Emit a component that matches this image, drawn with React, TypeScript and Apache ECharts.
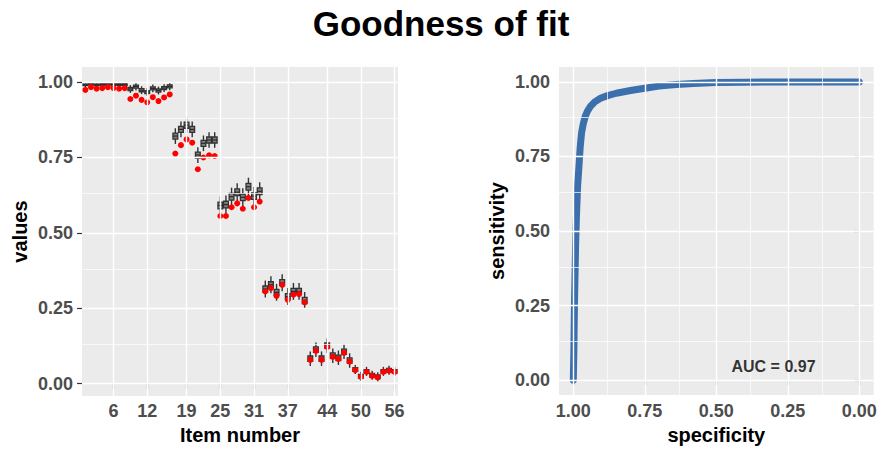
import React, { useEffect, useRef } from "react";
import * as echarts from "echarts";

// ---------- data ----------
const ITEMS = [
  1, 2, 3, 4, 5, 6, 7, 8, 9, 10, 11, 12, 13, 14, 15, 16, 17, 18, 19, 20, 21, 22, 23, 24, 25, 26, 27, 28,
  29, 30, 31, 32, 33, 34, 35, 36, 37, 38, 39, 40, 41, 42, 43, 44, 45, 46, 47, 48, 49, 50, 51, 52, 53, 54, 55, 56,
];

const OBSERVED = [
  0.974, 0.983, 0.978, 0.98, 0.983, 0.98, 0.978, 0.98,
  0.944, 0.955, 0.941, 0.933, 0.95, 0.937, 0.949, 0.959,
  0.763, 0.791, 0.81, 0.799, 0.711, 0.75, 0.757, 0.755,
  0.556, 0.556, 0.585, 0.598, 0.58, 0.616, 0.585, 0.604,
  0.306, 0.317, 0.291, 0.328, 0.278, 0.295, 0.297, 0.27,
  0.079, 0.109, 0.079, 0.122, 0.089, 0.082, 0.102, 0.073,
  0.045, 0.023, 0.039, 0.026, 0.021, 0.039, 0.043, 0.039,
];

const WHISK_LO = [
  0.983, 0.986, 0.983, 0.984, 0.986, 0.984, 0.984, 0.984,
  0.964, 0.972, 0.96, 0.954, 0.966, 0.959, 0.967, 0.973,
  0.795, 0.817, 0.831, 0.817, 0.732, 0.771, 0.782, 0.782,
  0.561, 0.564, 0.59, 0.605, 0.588, 0.623, 0.592, 0.608,
  0.286, 0.3, 0.275, 0.307, 0.261, 0.278, 0.278, 0.248,
  0.059, 0.089, 0.059, 0.102, 0.069, 0.062, 0.082, 0.053,
  0.032, 0.01, 0.026, 0.013, 0.008, 0.026, 0.03, 0.026,
];

const Q1 = [
  0.988, 0.991, 0.988, 0.989, 0.991, 0.989, 0.989, 0.989,
  0.972, 0.98, 0.968, 0.962, 0.974, 0.967, 0.975, 0.981,
  0.811, 0.833, 0.847, 0.833, 0.748, 0.787, 0.798, 0.798,
  0.58, 0.583, 0.609, 0.624, 0.607, 0.642, 0.611, 0.627,
  0.304, 0.318, 0.293, 0.325, 0.279, 0.296, 0.296, 0.266,
  0.074, 0.104, 0.074, 0.117, 0.084, 0.077, 0.097, 0.068,
  0.041, 0.019, 0.035, 0.022, 0.017, 0.035, 0.039, 0.035,
];

const MEDIAN = [
  0.991, 0.994, 0.991, 0.992, 0.994, 0.992, 0.992, 0.992,
  0.977, 0.985, 0.973, 0.967, 0.979, 0.972, 0.98, 0.986,
  0.821, 0.843, 0.857, 0.843, 0.758, 0.797, 0.808, 0.808,
  0.591, 0.594, 0.62, 0.635, 0.618, 0.653, 0.622, 0.638,
  0.314, 0.328, 0.303, 0.335, 0.289, 0.306, 0.306, 0.276,
  0.083, 0.113, 0.083, 0.126, 0.093, 0.086, 0.106, 0.077,
  0.047, 0.025, 0.041, 0.028, 0.023, 0.041, 0.045, 0.041,
];

const Q3 = [
  0.994, 0.997, 0.994, 0.995, 0.997, 0.995, 0.995, 0.995,
  0.982, 0.99, 0.978, 0.972, 0.984, 0.977, 0.985, 0.991,
  0.831, 0.853, 0.867, 0.853, 0.768, 0.807, 0.818, 0.818,
  0.602, 0.605, 0.631, 0.646, 0.629, 0.664, 0.633, 0.649,
  0.324, 0.338, 0.313, 0.345, 0.299, 0.316, 0.316, 0.286,
  0.092, 0.122, 0.092, 0.135, 0.102, 0.095, 0.115, 0.086,
  0.053, 0.031, 0.047, 0.034, 0.029, 0.047, 0.051, 0.047,
];

const WHISK_HI = [
  0.999, 1.0, 0.999, 1.0, 1.0, 1.0, 1.0, 1.0,
  0.99, 0.998, 0.986, 0.98, 0.992, 0.985, 0.993, 0.999,
  0.847, 0.869, 0.883, 0.869, 0.784, 0.823, 0.834, 0.834,
  0.621, 0.624, 0.65, 0.665, 0.648, 0.683, 0.652, 0.668,
  0.342, 0.356, 0.331, 0.363, 0.317, 0.334, 0.334, 0.304,
  0.107, 0.137, 0.107, 0.15, 0.117, 0.11, 0.13, 0.101,
  0.062, 0.04, 0.056, 0.043, 0.038, 0.056, 0.06, 0.056,
];

const ITEM_TICKS = [6, 12, 19, 25, 31, 37, 44, 50, 56];
const UNIT_TICKS = [0, 0.25, 0.5, 0.75, 1];
const UNIT_MINOR = [0.125, 0.375, 0.625, 0.875];

const SPECIFICITY = [
  1.0, 0.998, 0.996, 0.992, 0.989, 0.985, 0.98, 0.976, 0.971, 0.965, 0.958, 0.95, 0.94,
  0.925, 0.905, 0.88, 0.85, 0.8, 0.75, 0.7, 0.64, 0.58, 0.5, 0.4, 0.3, 0.0,
];
const SENSITIVITY = [
  0.0, 0.1, 0.25, 0.45, 0.55, 0.65, 0.72, 0.78, 0.83, 0.86, 0.885, 0.903, 0.918,
  0.933, 0.945, 0.954, 0.962, 0.971, 0.979, 0.986, 0.991, 0.995, 0.998, 0.999, 1.0, 1.0,
];

const AUC_TEXT = "AUC = 0.97";
const AUC_POS = [0.3, 0.045];

// ---------- styles ----------
const FONT = "'Liberation Sans', Arial, Helvetica, sans-serif";
const TICK_LABEL = { fontFamily: FONT, fontSize: 18, fontWeight: "bold" as const, color: "#4D4D4D" };
const AXIS_NAME = { fontFamily: FONT, fontSize: 20, fontWeight: "bold" as const, color: "#000000" };
const TICK = { show: true, length: 5, lineStyle: { color: "#333333", width: 1.2 } };
const MAJOR = { color: "#FFFFFF", width: 1.4, type: "solid" as const };
const MINOR = { color: "#FFFFFF", width: 0.7, type: "solid" as const };
const PANEL_BG = "#EBEBEB";
const ROC_COLOR = "#3C70AC";

function gridLines(xMajor: number[], xMinor: number[], yMajor: number[], yMinor: number[]) {
  return [
    ...yMinor.map((v) => ({ yAxis: v, lineStyle: MINOR })),
    ...xMinor.map((v) => ({ xAxis: v, lineStyle: MINOR })),
    ...yMajor.map((v) => ({ yAxis: v, lineStyle: MAJOR })),
    ...xMajor.map((v) => ({ xAxis: v, lineStyle: MAJOR })),
  ];
}

export default function App() {
  const ref = useRef<HTMLDivElement>(null);

  useEffect(() => {
    if (!ref.current) return;
    const chart = echarts.init(ref.current, undefined, { renderer: "svg" });

    const fmt2 = (v: number) => Number(v).toFixed(2);

    const option: any = {
      animation: false,
      backgroundColor: "#FFFFFF",
      title: {
        text: "Goodness of fit",
        left: "center",
        top: 1,
        textStyle: { fontFamily: FONT, fontSize: 35, fontWeight: "bold", color: "#000000" },
      },
      grid: [
        { left: 82, top: 67, width: 316, height: 332, show: true, backgroundColor: PANEL_BG, borderWidth: 0 },
        { left: 559, top: 67, width: 317, height: 329.5, show: true, backgroundColor: PANEL_BG, borderWidth: 0 },
      ],
      xAxis: [
        {
          gridIndex: 0,
          type: "value",
          min: 0.4,
          max: 56.6,
          axisLine: { show: false },
          axisTick: { ...TICK, customValues: ITEM_TICKS },
          axisLabel: { ...TICK_LABEL, margin: 6, customValues: ITEM_TICKS, formatter: (v: number) => String(v) },
          splitLine: { show: false },
          name: "Item number",
          nameLocation: "middle",
          nameGap: 27,
          nameTextStyle: AXIS_NAME,
        },
        {
          gridIndex: 1,
          type: "value",
          min: -0.05,
          max: 1.05,
          inverse: true,
          axisLine: { show: false },
          axisTick: { ...TICK, customValues: UNIT_TICKS },
          axisLabel: { ...TICK_LABEL, margin: 7, customValues: UNIT_TICKS, formatter: fmt2 },
          splitLine: { show: false },
          name: "specificity",
          nameLocation: "middle",
          nameGap: 29,
          nameTextStyle: AXIS_NAME,
        },
      ],
      yAxis: [
        {
          gridIndex: 0,
          type: "value",
          min: -0.041,
          max: 1.05,
          axisLine: { show: false },
          axisTick: { ...TICK, customValues: UNIT_TICKS },
          axisLabel: { ...TICK_LABEL, margin: 9, customValues: UNIT_TICKS, formatter: fmt2 },
          splitLine: { show: false },
          name: "values",
          nameLocation: "middle",
          nameGap: 52,
          nameTextStyle: AXIS_NAME,
        },
        {
          gridIndex: 1,
          type: "value",
          min: -0.05,
          max: 1.05,
          axisLine: { show: false },
          axisTick: { ...TICK, customValues: UNIT_TICKS },
          axisLabel: { ...TICK_LABEL, margin: 9, customValues: UNIT_TICKS, formatter: fmt2 },
          splitLine: { show: false },
          name: "sensitivity",
          nameLocation: "middle",
          nameGap: 52,
          nameTextStyle: AXIS_NAME,
        },
      ],
      series: [
        {
          type: "line",
          xAxisIndex: 0,
          yAxisIndex: 0,
          data: [],
          z: 1,
          silent: true,
          markLine: {
            silent: true,
            symbol: ["none", "none"],
            label: { show: false },
            lineStyle: { type: "solid" },
            emphasis: { disabled: true },
            data: gridLines(ITEM_TICKS, [], UNIT_TICKS, UNIT_MINOR),
          },
        },
        {
          type: "line",
          xAxisIndex: 1,
          yAxisIndex: 1,
          data: [],
          z: 1,
          silent: true,
          markLine: {
            silent: true,
            symbol: ["none", "none"],
            label: { show: false },
            lineStyle: { type: "solid" },
            emphasis: { disabled: true },
            data: gridLines(UNIT_TICKS, UNIT_MINOR, UNIT_TICKS, UNIT_MINOR),
          },
        },
        {
          type: "custom",
          xAxisIndex: 0,
          yAxisIndex: 0,
          z: 3,
          silent: true,
          data: ITEMS.map((it, i) => [it, WHISK_LO[i], Q1[i], MEDIAN[i], Q3[i], WHISK_HI[i]]),
          encode: { x: 0, y: [1, 2, 3, 4, 5] },
          renderItem: (params: any, api: any) => {
            const x = api.value(0);
            const lo = api.coord([x, api.value(1)]);
            const q1 = api.coord([x, api.value(2)]);
            const md = api.coord([x, api.value(3)]);
            const q3 = api.coord([x, api.value(4)]);
            const hi = api.coord([x, api.value(5)]);
            const w = api.size([0.85, 0])[0];
            return {
              type: "group",
              children: [
                {
                  type: "line",
                  shape: { x1: lo[0], y1: lo[1], x2: hi[0], y2: hi[1] },
                  style: { stroke: "#333333", lineWidth: 1.4 },
                },
                {
                  type: "rect",
                  shape: { x: q3[0] - w / 2, y: q3[1], width: w, height: q1[1] - q3[1] },
                  style: { fill: "#808080", stroke: "#333333", lineWidth: 1.3 },
                },
                {
                  type: "line",
                  shape: { x1: md[0] - w / 2, y1: md[1], x2: md[0] + w / 2, y2: md[1] },
                  style: { stroke: "#2A2A2A", lineWidth: 1.2 },
                },
              ],
            };
          },
        },
        {
          type: "scatter",
          xAxisIndex: 0,
          yAxisIndex: 0,
          z: 4,
          silent: true,
          symbol: "circle",
          symbolSize: 6,
          itemStyle: { color: "#FF0000", opacity: 1 },
          data: ITEMS.map((it, i) => [it, OBSERVED[i]]),
        },
        {
          type: "line",
          xAxisIndex: 1,
          yAxisIndex: 1,
          z: 3,
          silent: true,
          showSymbol: false,
          symbol: "none",
          lineStyle: { color: ROC_COLOR, width: 7, cap: "round", join: "round" },
          data: SPECIFICITY.map((s, i) => [s, SENSITIVITY[i]]),
        },
        {
          type: "scatter",
          xAxisIndex: 1,
          yAxisIndex: 1,
          z: 5,
          silent: true,
          symbolSize: 0,
          itemStyle: { color: "transparent" },
          label: {
            show: true,
            position: "inside",
            formatter: AUC_TEXT,
            fontFamily: FONT,
            fontSize: 16,
            fontWeight: "bold",
            color: "#000000",
          },
          data: [AUC_POS],
        },
      ],
    };

    chart.setOption(option);
    return () => chart.dispose();
  }, []);

  return <div ref={ref} style={{ position: "absolute", left: 0, top: 0, width: 882, height: 450 }} />;
}
